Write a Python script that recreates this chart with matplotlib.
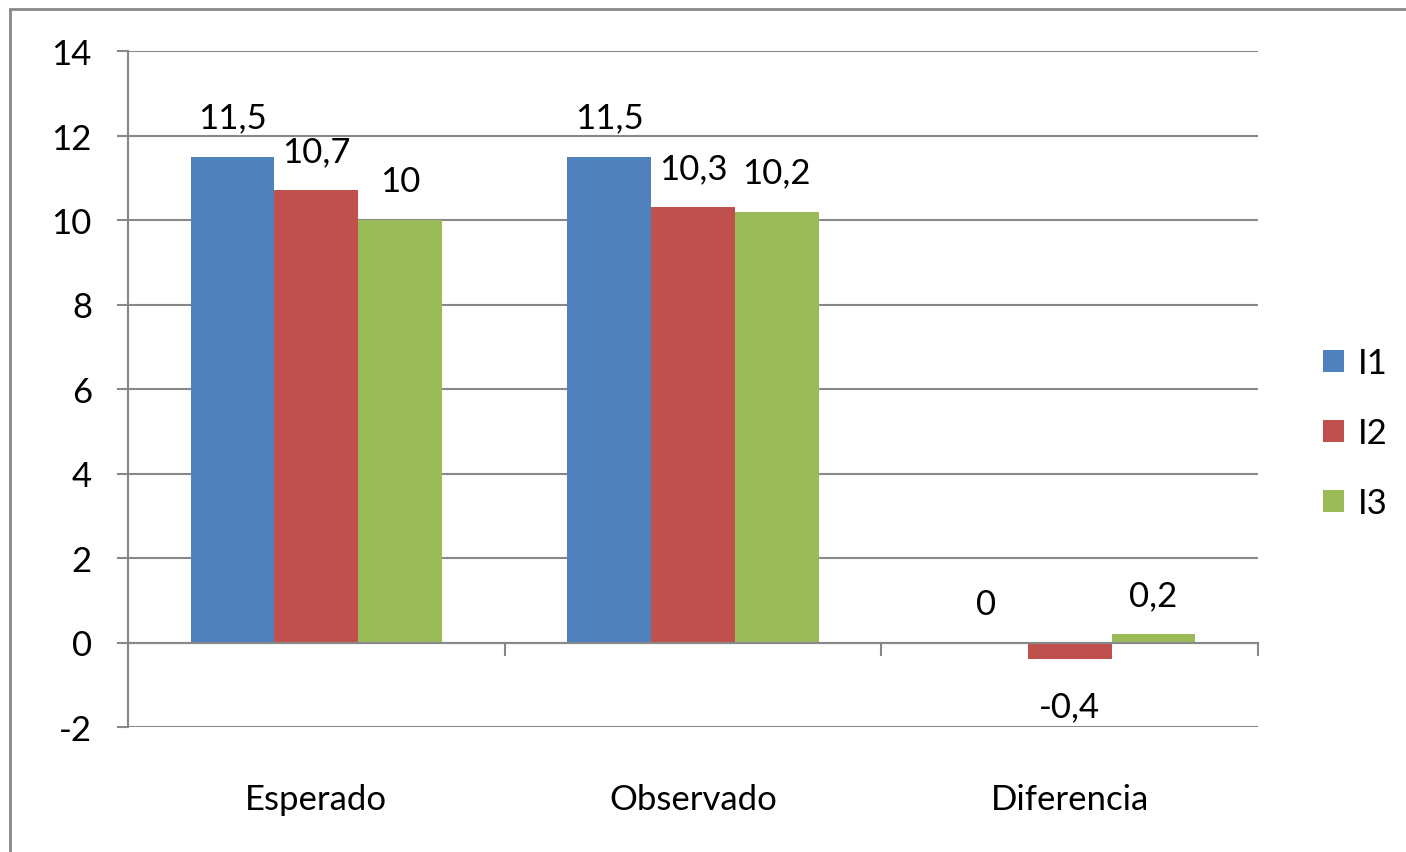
import numpy as np
import matplotlib.pyplot as plt
from matplotlib.patches import Rectangle

plt.rcParams['font.family'] = ['Lato', 'DejaVu Sans']

# data
categorias = ['Esperado', 'Observado', 'Diferencia']
series = ['I1', 'I2', 'I3']
I1 = [11.5, 11.5, 0]
I2 = [10.7, 10.3, -0.4]
I3 = [10.0, 10.2, 0.2]
colores = ['#4F81BD', '#C0504D', '#9BBB59']
y_ticks = list(range(-2, 16, 2))

gris = '#888888'
fs = 25

fig = plt.figure(figsize=(14.06, 8.53), dpi=100)
ax = fig.add_axes([128 / 1406, 1 - 728 / 853, (1258 - 128) / 1406, (728 - 52) / 853])

x = np.arange(len(categorias))
w = 1 / 4.5  # gap width 150%
for i, (vals, nombre, c) in enumerate(zip([I1, I2, I3], series, colores)):
    pos = x + (i - 1) * w
    ax.bar(pos, vals, width=w, color=c, label=nombre, zorder=3)
    for xi, v in zip(pos, vals):
        txt = f'{v:g}'.replace('.', ',')
        off = -34 if v < 0 else 28
        ax.annotate(txt, (xi, v), xytext=(0, off), textcoords='offset points',
                    ha='center', va='center', fontsize=fs, zorder=4)

ax.set_xlim(-0.5, len(categorias) - 0.5)
ax.set_ylim(-2, 14)
ax.set_yticks(y_ticks)
ax.set_yticklabels([str(t) for t in y_ticks])
ax.grid(axis='y', color=gris, linewidth=1.5, zorder=0)

for s in ['top', 'right']:
    ax.spines[s].set_visible(False)
ax.spines['left'].set_color(gris)
ax.spines['left'].set_linewidth(1.5)
ax.spines['bottom'].set_position(('data', 0))
ax.spines['bottom'].set_color(gris)
ax.spines['bottom'].set_linewidth(1.5)
ax.spines['bottom'].set_zorder(3.5)

ax.tick_params(axis='y', length=8, width=1.5, color=gris, pad=18, labelsize=fs)
ax.set_xticks(x)
ax.set_xticklabels(categorias)
ax.set_xticks(np.arange(-0.5, len(categorias)), minor=True)
ax.tick_params(axis='x', which='major', length=0, pad=101, labelsize=fs)
ax.tick_params(axis='x', which='minor', length=9, width=1.5, color=gris, direction='out')

leg = ax.legend(loc='center left', bbox_to_anchor=(1292 / 1406, 1 - 434 / 853),
                bbox_transform=fig.transFigure, frameon=False, fontsize=fs,
                handlelength=0.6, handleheight=0.6, handletextpad=0.4,
                labelspacing=1.1)

# outer chart frame
fig.patches.append(Rectangle((10 / 1406, -0.1), 1.2, 1 - 10 / 853 + 0.1,
                             transform=fig.transFigure, fill=False,
                             edgecolor=gris, linewidth=2))

fig.savefig('out.png', dpi=100)
